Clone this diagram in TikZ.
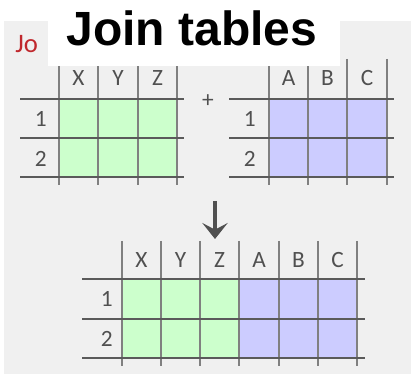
\documentclass[tikz,border=0pt]{standalone}
\usepackage{fontspec}
\setmainfont{Carlito}
\newfontfamily\titlefont{Liberation Sans}
\usetikzlibrary{arrows.meta}
\usepackage{xcolor}
\definecolor{bgGrey}{RGB}{240,240,240}
\definecolor{greenCell}{RGB}{204,255,204}
\definecolor{blueCell}{RGB}{204,204,255}
\definecolor{lineGrey}{RGB}{128,128,128}
\definecolor{lineDark}{RGB}{90,90,90}
\definecolor{labelGrey}{RGB}{80,80,80}
\definecolor{joRed}{RGB}{192,40,45}

\begin{document}
\begin{tikzpicture}[
    x=0.75pt, y=-0.75pt,
    vline/.style={draw=lineGrey, line width=1.5pt},
    hline/.style={draw=lineDark, line width=1.5pt},
    head/.style={font=\fontsize{17.5}{20}\selectfont, text=labelGrey, inner sep=0pt},
    rowlab/.style={font=\fontsize{17.5}{20}\selectfont, text=labelGrey, inner sep=0pt, anchor=east},
    >={Stealth[length=12pt, width=19pt, inset=5pt]}
]
\useasboundingbox (0,0) rectangle (411,374);
\fill[bgGrey] (4,21) rectangle (411,374);

% left table
\fill[greenCell] (59,99) rectangle (177,177);
\foreach \x in {59,98,138,177} \draw[vline] (\x,59) -- (\x,185);
\foreach \y in {99,138,177} \draw[hline] (20,\y) -- (184,\y);
\node[head] (lx) at (78.5,78) {X};
\node[head] (ly) at (118,78) {Y};
\node[head] (lz) at (157.5,78) {Z};
\node[rowlab] (l1) at (47,119) {1};
\node[rowlab] (l2) at (47,159) {2};

\node[font=\fontsize{17.5}{20}\selectfont, text=labelGrey, inner sep=0pt] (plus) at (208,101) {+};

% right table
\fill[blueCell] (269,99) rectangle (387,177);
\foreach \x in {269,308,347,387} \draw[vline] (\x,59) -- (\x,185);
\foreach \y in {99,138,177} \draw[hline] (229,\y) -- (394,\y);
\node[head] (ra) at (288.5,78) {A};
\node[head] (rb) at (327.5,78) {B};
\node[head] (rc) at (367,78) {C};
\node[rowlab] (r1) at (256,119) {1};
\node[rowlab] (r2) at (256,159) {2};

% arrow
\coordinate (arrTop) at (215,201);
\coordinate (arrEnd) at (215,239);
\draw[->, draw=labelGrey, fill=labelGrey, line width=3pt] (arrTop) -- (arrEnd);

% joined table
\fill[greenCell] (122,279) rectangle (239,358);
\fill[blueCell] (239,279) rectangle (357,358);
\foreach \x in {122,161,200,239,279,318,357} \draw[vline] (\x,241) -- (\x,366);
\foreach \y in {279,319,358} \draw[hline] (82,\y) -- (365,\y);
\node[head] (jx) at (141.5,260) {X};
\node[head] (jy) at (180.5,260) {Y};
\node[head] (jz) at (219.5,260) {Z};
\node[head] (ja) at (259,260) {A};
\node[head] (jb) at (298.5,260) {B};
\node[head] (jc) at (337.5,260) {C};
\node[rowlab] (j1) at (113,299) {1};
\node[rowlab] (j2) at (113,339) {2};

% title
\node[font=\fontsize{20}{24}\selectfont, text=joRed, inner sep=0pt, anchor=base west] (jo) at (15,53) {Jo};
\fill[white] (48,0) rectangle (340,66);
\node[font=\titlefont\bfseries\fontsize{36}{40}\selectfont, inner sep=0pt] (title) at (192,28) {Join tables};
\end{tikzpicture}
\end{document}
